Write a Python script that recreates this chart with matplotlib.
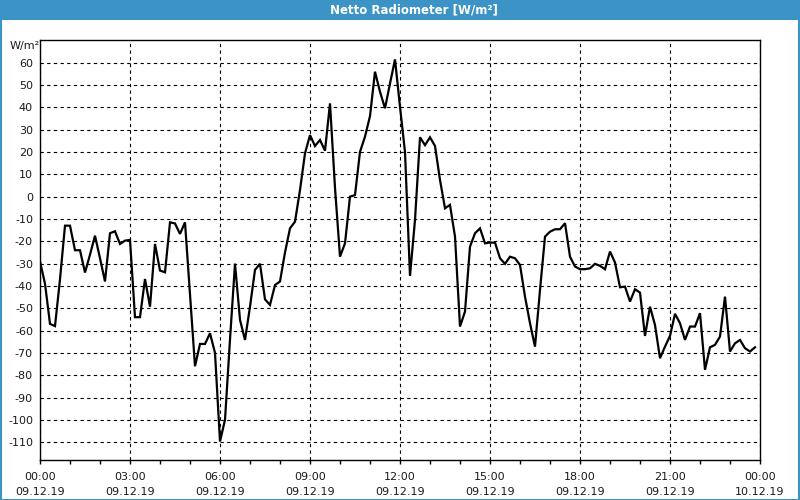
import numpy as np
import matplotlib
matplotlib.use("Agg")
import matplotlib.pyplot as plt
from matplotlib.patches import Rectangle
from matplotlib.ticker import MultipleLocator

# ---- data (10-minute samples, 09.12.19 00:00 .. 23:50) ----
values = [
    -29, -39, -57, -58, -37, -13, -13, -24, -24, -34,
    -26, -17.5, -27.6, -38, -16.4, -15.5, -21.2, -19.7, -19.4, -54,
    -54, -36.9, -49.3, -21.2, -33.1, -33.9, -11.5, -12, -16.7, -11.5,
    -44, -76, -66, -66, -61.2, -70, -109.7, -100, -64, -30,
    -55.2, -64.2, -49.3, -32.8, -30.1, -46, -48.5, -39.6, -38, -25,
    -14.2, -11.2, 3, 19.4, 27.6, 22.7, 25.4, 20.6, 41.8, 4,
    -26.9, -20.9, 0, 0.7, 20.1, 26.9, 36.1, 56, 47, 39.6,
    50.7, 61.5, 40.3, 20, -35.5, -10.4, 26.6, 23.1, 26.6, 22.7,
    7.5, -5.2, -3.7, -17.9, -58.2, -51.5, -22.4, -16.4, -14.2, -20.9,
    -20.6, -20.6, -27.6, -30.1, -26.9, -27.6, -30.6, -44.8, -56.7, -67.2,
    -41.8, -17.9, -15.7, -14.6, -14.6, -11.9, -26.9, -31.3, -32.5, -32.5,
    -32.1, -30.1, -31, -32.5, -24.6, -29.5, -40.6, -40.3, -47, -41.5,
    -43, -62.4, -49.3, -57.5, -72.4, -67.2, -62.4, -52.5, -56.7, -64.2,
    -58.2, -58.2, -52.2, -77.6, -67.5, -66.4, -62.7, -44.8, -69.4, -65.7,
    -64.2, -67.9, -69.4, -67.5,
]
sample_minutes = 10
hours = np.arange(len(values)) * sample_minutes / 60.0

xtick_hours = [0, 3, 6, 9, 12, 15, 18, 21, 24]
xtick_labels = ["00:00\n09.12.19", "03:00\n09.12.19", "06:00\n09.12.19",
                "09:00\n09.12.19", "12:00\n09.12.19", "15:00\n09.12.19",
                "18:00\n09.12.19", "21:00\n09.12.19", "00:00\n10.12.19"]
ytick_values = list(range(-110, 61, 10))
title = "Netto Radiometer [W/m²]"
unit = "W/m²"

# ---- figure ----
W, H = 800, 500
fig = plt.figure(figsize=(W / 100, H / 100), dpi=100)
fig.patch.set_facecolor("white")
blue = "#3c93c5"

# title bar and frame
fig.patches.append(Rectangle((0, 1 - 20 / H), 1, 20 / H, transform=fig.transFigure,
                             facecolor=blue, edgecolor="none", zorder=0))
fig.patches.append(Rectangle((0.5 / W, 0.5 / H), 1 - 1.5 / W, 1 - 1.5 / H,
                             transform=fig.transFigure, facecolor="none",
                             edgecolor=blue, linewidth=1.5, zorder=5))
fig.text(414 / W, 1 - 10 / H, title, color="white", ha="center", va="center",
         fontsize=8.5, fontweight="bold", family="DejaVu Sans")

ax = fig.add_axes([40 / W, (H - 460) / H, 720 / W, 420 / H])
ax.plot(hours, values, color="black", linewidth=1.6, solid_joinstyle="miter", zorder=3)

ax.set_xlim(0, 24)
ax.set_ylim(-118, 70.2)
ax.set_xticks(xtick_hours)
ax.set_xticklabels(xtick_labels, fontsize=8, color="#1a1a1a", linespacing=1.6)
ax.xaxis.set_minor_locator(MultipleLocator(1))
ax.set_yticks(ytick_values)
ax.set_yticklabels([str(v) for v in ytick_values], fontsize=8, color="#1a1a1a")

ax.tick_params(axis="x", which="both", direction="out", length=3, width=1,
               color="black", pad=6)
ax.tick_params(axis="y", which="both", length=0, pad=5)

ax.grid(True, which="major", color="black", linestyle=(0, (3, 3)), linewidth=0.8)
for s in ax.spines.values():
    s.set_color("black")
    s.set_linewidth(1)

fig.text(25 / W, 1 - 46 / H, unit, ha="center", va="center", fontsize=8, color="#1a1a1a")

fig.savefig("out.png", dpi=100)
